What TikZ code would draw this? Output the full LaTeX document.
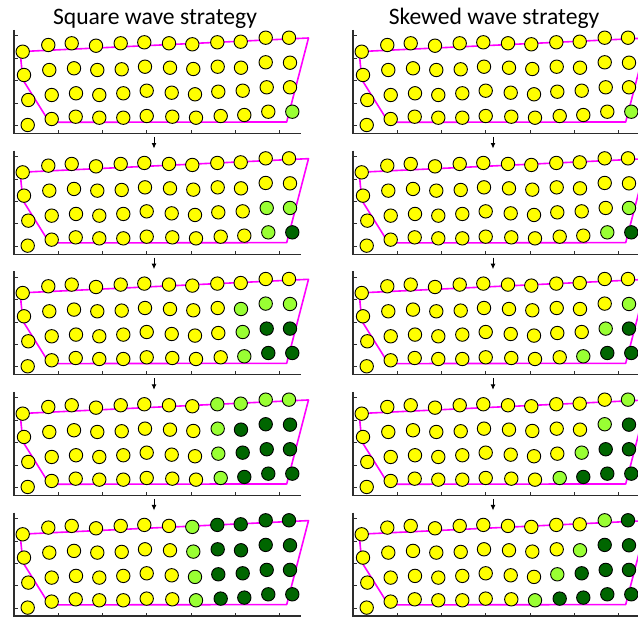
\documentclass[tikz,border=0pt]{standalone}
\usepackage{fontspec}
\setmainfont{Carlito}
\usetikzlibrary{arrows.meta}
\definecolor{yel}{RGB}{255,255,0}
\definecolor{ltg}{RGB}{153,255,51}
\definecolor{dkg}{RGB}{0,102,0}
\definecolor{mag}{RGB}{255,0,255}
\definecolor{axisgray}{RGB}{45,45,45}
\begin{document}
\begin{tikzpicture}[x=1pt,y=-1pt,
  dot/.style={circle,draw=black,line width=0.9pt,minimum size=13.4pt,inner sep=0pt},
  axisline/.style={draw=axisgray,line width=1.3pt},
  tickline/.style={draw=axisgray,line width=1pt},
  hull/.style={draw=mag,line width=1.6pt,line join=round},
  stepper/.style={draw=black,line width=0.9pt,-{Latex[length=5.5pt,width=5pt]}},
  ttl/.style={font=\fontsize{23.6}{28}\selectfont,anchor=base,inner sep=0pt}]
\useasboundingbox (0,0) rectangle (638,618);
\fill[white] (0,0) rectangle (638,618);
\node[ttl] (t0) at (155,24.5) {Square wave strategy};
\node[ttl] (t1) at (494,24.5) {Skewed wave strategy};
\foreach \s in {0,1}{
 \foreach \k in {0,...,4}{
  \begin{scope}[shift={(339*\s,120.65*\k)}]
   \draw[axisline] (14,30) -- (14,133.5) -- (301,133.5);
   \foreach \i in {0,...,4} \draw[tickline] (14,{36+22.4*\i}) -- ++(4,0);
   \foreach \i in {1,...,6} \draw[tickline] ({14+44.3*\i},133.5) -- ++(0,-3.5);
   \draw[hull] (286.7,122) -- (49.5,122.3) -- (23,80) -- (21,61)
      .. controls (20.5,51.6) .. (31,51.1) -- (308.5,38) -- cycle;
   \foreach \r/\c/\x/\y in {
     1/0/22.7/51.7, 1/1/48.3/45, 1/2/71.7/43.3, 1/3/96/45.7, 1/4/120.7/43.3, 1/5/144.3/42.3,
     1/6/169/43.3, 1/7/192.3/44.3, 1/8/217.3/42.3, 1/9/240.7/41.7, 1/10/265.7/37.7, 1/11/289/37.7,
     2/0/24/75, 2/1/49.3/70, 2/2/74/68.3, 2/3/97.3/70, 2/4/121.7/69.3, 2/5/145/66.7,
     2/6/170/67.7, 2/7/193.3/69, 2/8/217.7/66.7, 2/9/241/67.7, 2/10/265.7/62.3, 2/11/290/62.7,
     3/0/28.3/100, 3/1/51.7/95, 3/2/76/93.3, 3/3/99.3/95, 3/4/123.3/93.3, 3/5/146.7/90.7,
     3/6/171.7/92.7, 3/7/195/94.3, 3/8/218.3/91.7, 3/9/242.7/90.7, 3/10/266.7/87.3, 3/11/290/87.3,
     4/0/27.7/125, 4/1/51.7/119, 4/2/75.7/116.7, 4/3/99.3/117.7, 4/4/123.3/117.7, 4/5/146.7/116,
     4/6/172.3/116.7, 4/7/196/117.7, 4/8/220.7/116, 4/9/244.3/115, 4/10/268.3/111.7, 4/11/292.3/111.7}{
     \pgfmathtruncatemacro\dd{\s==0 ? max(11-\c,4-\r) : 11-\c+4-\r}
     \ifnum\dd<\k \def\fc{dkg}\else\ifnum\dd=\k \def\fc{ltg}\else\def\fc{yel}\fi\fi
     \node[dot,fill=\fc] (p\s-\k-\r-\c) at (\x,\y) {};
   }
   \ifnum\k<4
     \coordinate (a\s\k) at (154,137);
     \coordinate (b\s\k) at (154,148.5);
     \draw[stepper] (a\s\k) -- (b\s\k);
   \fi
  \end{scope}
 }}
\end{tikzpicture}
\end{document}
